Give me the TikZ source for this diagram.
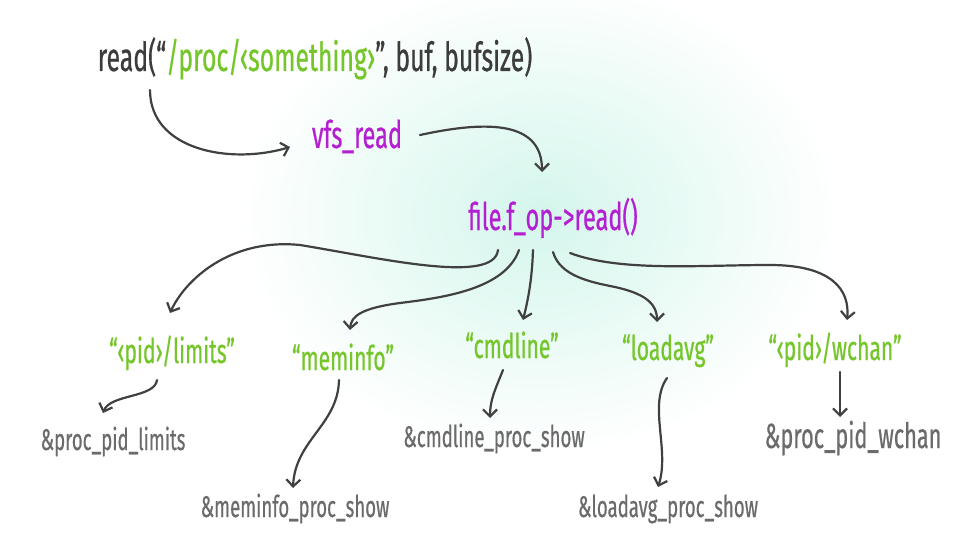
\documentclass[tikz,border=0pt]{standalone}
\usepackage{fontspec}
\setmainfont{Fira Sans}[FakeStretch=0.62,FakeBold=0.5]
\usetikzlibrary{arrows.meta}

\definecolor{codegray}{HTML}{3C3C3C}
\definecolor{linkgray}{HTML}{404040}
\definecolor{callpurple}{HTML}{B41FD2}
\definecolor{entrygreen}{HTML}{75C62A}
\definecolor{handlergray}{HTML}{6B6B6B}
\definecolor{glowmint}{HTML}{D4F6EC}

\begin{document}
\begin{tikzpicture}[x=1pt,y=-1pt,
        every node/.style={inner sep=0pt,anchor=base},
        code/.style={text=codegray,font=\fontsize{40}{46}\selectfont},
        call/.style={text=callpurple,font=\fontsize{38}{44}\selectfont},
        entry/.style={text=entrygreen,font=\fontsize{34}{40}\selectfont},
        handler/.style={text=handlergray,font=\fontsize{30}{36}\selectfont},
        link/.style={draw=linkgray,line width=2.2pt,line cap=round,
            -{Straight Barb[length=7pt,width=14pt]}}]
        \useasboundingbox (0,0) rectangle (965,548);

        % soft glow behind the middle
        \shade[inner color=glowmint,outer color=white] (540,215) ellipse (300 and 240);

        % the call and the kernel side
        \node[code] (call) at (315,71)
            {read(“{\color{entrygreen}/proc/‹something›}”, buf, bufsize)};
        \node[call] (vfs) at (357,148) {vfs\_read};
        \node[call] (fop) at (553,230) {file.f\_op->read()};

        % the proc entries
        \foreach \name/\x/\y/\txt in {
            limits/172/363/{“‹pid›/limits”},
            meminfo/343/370/{“meminfo”},
            cmdline/512/358/{“cmdline”},
            loadavg/668/360/{“loadavg”},
            wchan/835/360/{“‹pid›/wchan”}}
                \node[entry] (\name) at (\x,\y) {\txt};

        % the show functions behind them
        \foreach \name/\x/\y/\txt in {
            plimits/113/450/\&proc\_pid\_limits,
            pmeminfo/295/517/\&meminfo\_proc\_show,
            pcmdline/494/447/\&cmdline\_proc\_show,
            ploadavg/668/517/\&loadavg\_proc\_show}
                \node[handler] (\name) at (\x,\y) {\txt};
        \node[handler,font=\fontsize{35}{40}\selectfont] (pwchan) at (853,448)
            {\&proc\_pid\_wchan};

        % read -> vfs_read -> f_op
        \draw[link] ([xshift=-165pt,yshift=-19pt]call.base)
            .. controls (150,150) and (230,165) .. ([xshift=-67pt,yshift=1pt]vfs.base);
        \draw[link] ([xshift=63pt,yshift=13pt]vfs.base)
            .. controls (480,122) and (542,118) .. ([xshift=-11pt,yshift=58pt]fop.base);

        % f_op fans out to the entries
        \draw[link] ([xshift=-55pt,yshift=-20pt]fop.base)
            .. controls (494,285) and (380,258) .. (300,245)
            .. controls (230,238) and (185,280) .. ([xshift=-2pt,yshift=50pt]limits.base);
        \draw[link] ([xshift=-34pt,yshift=-20pt]fop.base)
            .. controls (505,290) and (440,298) .. (400,303)
            .. controls (362,308) and (351,316) .. ([xshift=7pt,yshift=40pt]meminfo.base);
        \draw[link] ([xshift=-20pt,yshift=-20pt]fop.base)
            .. controls (532,280) and (528,300) .. ([xshift=11pt,yshift=38pt]cmdline.base);
        \draw[link] ([xshift=0pt,yshift=-22pt]fop.base)
            .. controls (560,276) and (590,282) .. (615,287)
            .. controls (642,293) and (657,302) .. ([xshift=-11pt,yshift=38pt]loadavg.base);
        \draw[link] ([xshift=17pt,yshift=-23pt]fop.base)
            .. controls (620,272) and (700,265) .. (770,265)
            .. controls (832,265) and (850,290) .. ([xshift=12pt,yshift=40pt]wchan.base);

        % entries down to their show functions
        \draw[link] ([xshift=-15pt,yshift=-17pt]limits.base)
            .. controls (155,398) and (110,394) .. ([xshift=-10pt,yshift=37pt]plimits.base);
        \draw[link] ([xshift=-4pt,yshift=-10pt]meminfo.base)
            .. controls (338,425) and (295,440) .. ([xshift=-2pt,yshift=29pt]pmeminfo.base);
        \draw[link] ([xshift=-9pt,yshift=-12pt]cmdline.base)
            .. controls (495,390) and (490,400) .. ([xshift=-4pt,yshift=29pt]pcmdline.base);
        \draw[link] ([xshift=-1pt,yshift=-18pt]loadavg.base)
            .. controls (648,405) and (670,450) .. ([xshift=-10pt,yshift=30pt]ploadavg.base);
        \draw[link] ([xshift=5pt,yshift=-12pt]wchan.base)
            -- ([xshift=-13pt,yshift=31pt]pwchan.base);
\end{tikzpicture}
\end{document}
